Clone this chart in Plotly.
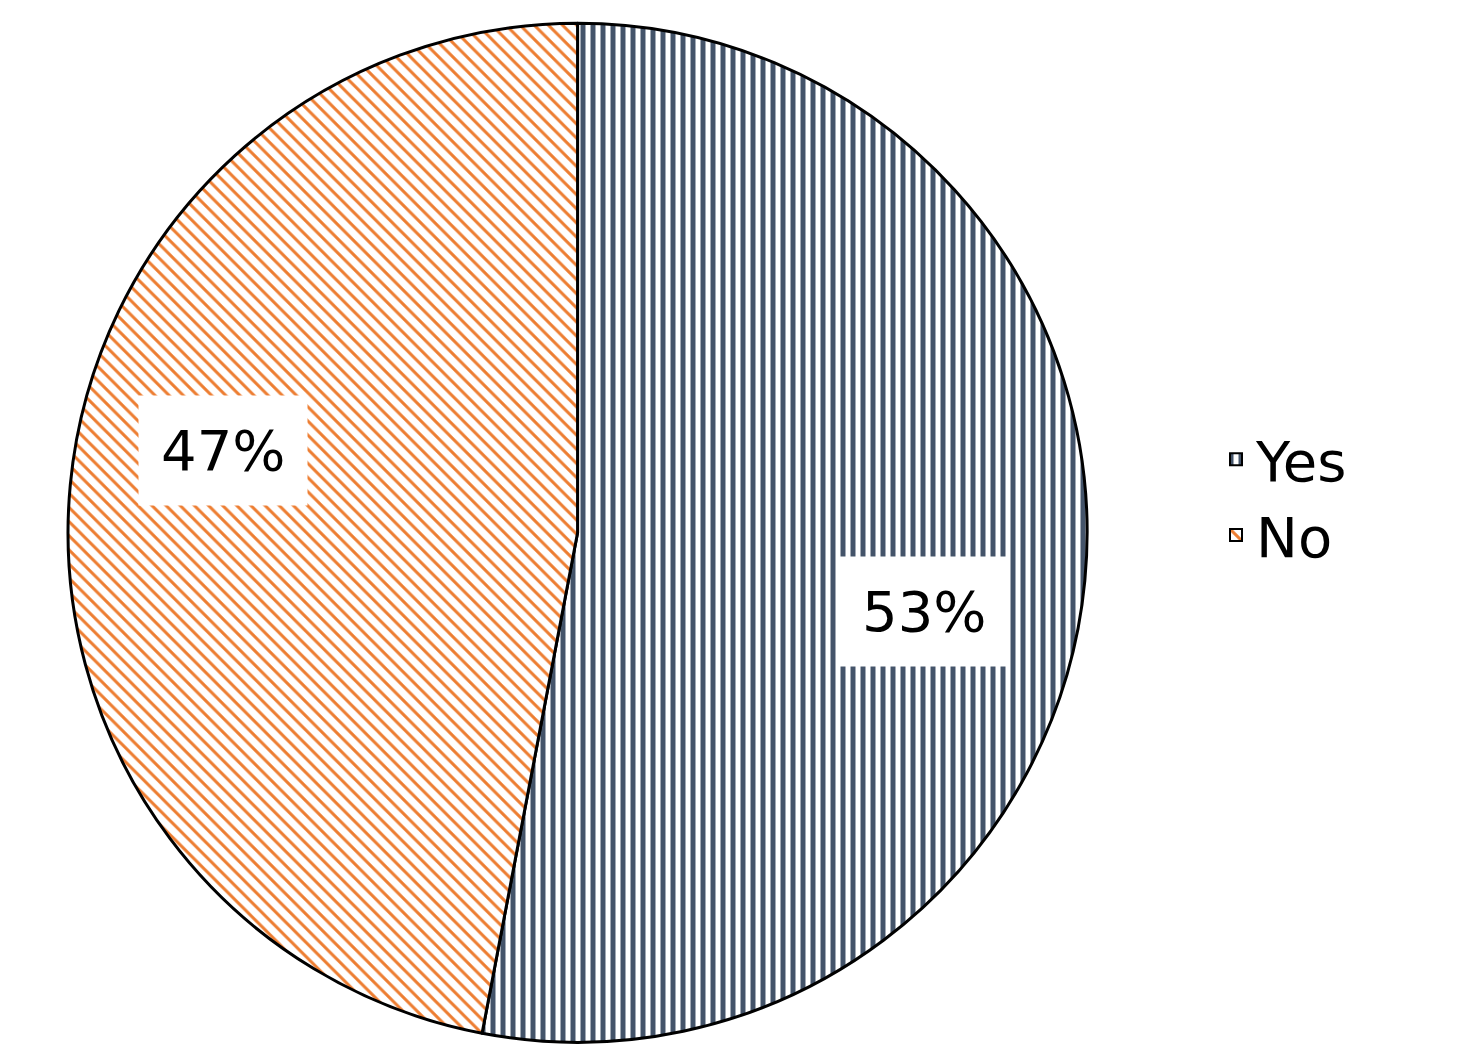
import plotly.graph_objects as go

labels = ["Yes", "No"]
values = [53, 47]
colors = ["#44546a", "#ed7d31"]
shapes = ["|", "\\"]

fig = go.Figure()
fig.add_trace(go.Pie(
    labels=labels, values=values, sort=False, direction="clockwise", rotation=0,
    textinfo="none", hoverinfo="label+percent",
    marker=dict(colors=["white", "white"],
                line=dict(color="black", width=3),
                pattern=dict(shape=shapes, fgcolor=colors, bgcolor="white",
                             size=10, solidity=[0.5, 0.3])),
    domain=dict(x=[0.034, 0.732], y=[0.017, 0.995]),
))

# percentage labels with white boxes
label_pos = [(0.62, 0.43), (0.14, 0.585)]
for v, (px, py) in zip(values, label_pos):
    fig.add_annotation(x=px, y=py, xref="paper", yref="paper",
                       xanchor="center", yanchor="middle",
                       text=f"{v}%", showarrow=False, bgcolor="white",
                       font=dict(size=56, color="black", family="DejaVu Sans"),
                       borderpad=22)

fig.update_layout(
    width=1481, height=1062, paper_bgcolor="white", plot_bgcolor="white",
    margin=dict(l=10, r=10, t=10, b=10),
    legend=dict(x=0.82, y=0.54, yanchor="middle",
                font=dict(size=56, color="black", family="DejaVu Sans"),
                itemsizing="constant", tracegroupgap=60),
)
fig.write_html("out.html")
